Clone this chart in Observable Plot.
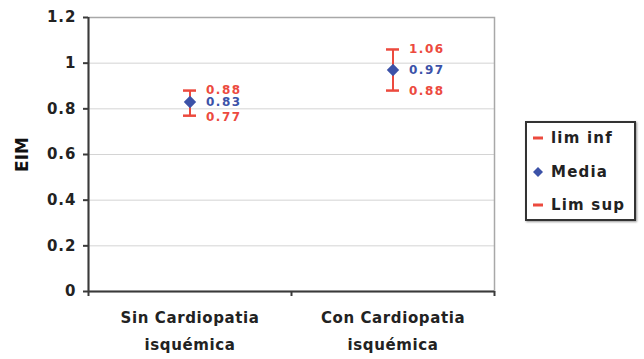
<!DOCTYPE html>
<html>
<head>
<meta charset="utf-8">
<script src="https://cdn.jsdelivr.net/npm/d3@7"></script>
<script src="https://cdn.jsdelivr.net/npm/@observablehq/plot@0.6"></script>
<style>
  html, body { margin: 0; padding: 0; background: #fff; }
  #wrap { position: relative; width: 644px; height: 359px; font-family: "DejaVu Sans", sans-serif; }
  #wrap > svg { position: absolute; left: 0; top: 0; }
  #legend { position: absolute; left: 525px; top: 121px; width: 111px; height: 100px; border: 2px solid #333; box-shadow: 1px 1px 2px #999; background: #fff; box-sizing: border-box; }
  .item { position: absolute; left: 0; height: 20px; display: flex; align-items: center; font-weight: bold; font-size: 15px; letter-spacing: 1.2px; color: #222; white-space: nowrap; }
  .mk { width: 14px; height: 20px; display: flex; align-items: center; justify-content: center; margin-left: 4px; margin-right: 6px; }
  .mk svg { display: block; }
</style>
</head>
<body>
<div id="wrap"></div>
<script>
const categories = ["Sin Cardiopatia\nisquémica", "Con Cardiopatia\nisquémica"];
const limInf = [0.77, 0.88];
const media = [0.83, 0.97];
const limSup = [0.88, 1.06];
const yTicks = [0, 0.2, 0.4, 0.6, 0.8, 1, 1.2];
const yTickLabels = ["0", "0.2", "0.4", "0.6", "0.8", "1", "1.2"];
const legendItems = ["lim inf", "Media", "Lim sup"];

const red = "#ec4a3e";
const blue = "#3c52a8";

const data = categories.map((c, i) => ({cat: c, lo: limInf[i], mean: media[i], hi: limSup[i]}));

const W = 644, H = 359, mL = 88, mR = 150, mT = 17, mB = 68;
const half = (W - mL - mR) / categories.length / 2;

const squareDiamond = {
  draw(context, size) {
    const r = Math.sqrt(size) / 2;
    context.moveTo(0, -r);
    context.lineTo(r, 0);
    context.lineTo(0, r);
    context.lineTo(-r, 0);
    context.closePath();
  }
};

const labelFont = {fontSize: 12, fontWeight: "bold", fontFamily: "'DejaVu Sans', sans-serif", dx: 16, textAnchor: "start"};

const plot = Plot.plot({
  width: W, height: H,
  marginLeft: mL, marginRight: mR, marginTop: mT, marginBottom: mB,
  style: {fontFamily: "'DejaVu Sans', sans-serif", background: "transparent"},
  x: {domain: categories, padding: 0},
  y: {domain: [0, 1.2]},
  marks: [
    Plot.gridY(yTicks, {stroke: "#d4d4d4", strokeOpacity: 1, strokeWidth: 1}),
    Plot.frame({stroke: "#a8a8a8", strokeWidth: 1.5}),
    Plot.ruleY([0], {stroke: "#3a3a3a", strokeWidth: 2}),
    Plot.ruleX([categories[0]], {x: d => d, y1: 0, y2: 1.2, dx: -half, stroke: "#3a3a3a", strokeWidth: 2}),
    Plot.ruleX(categories, {x: d => d, y1: 0, y2: 0, dx: -half, insetBottom: -5, stroke: "#3a3a3a", strokeWidth: 2}),
    Plot.ruleX([categories[categories.length - 1]], {x: d => d, y1: 0, y2: 0, dx: half, insetBottom: -5, stroke: "#3a3a3a", strokeWidth: 2}),
    Plot.axisY({ticks: yTicks, tickFormat: d => yTickLabels[yTicks.indexOf(d)], tickSize: 5, tickPadding: 7, stroke: "#3a3a3a", strokeWidth: 2, fontSize: 15, fontWeight: "bold", fill: "#222",
      label: "EIM", labelAnchor: "center", labelOffset: 73, labelArrow: "none"}),
    Plot.axisX({tickSize: 0, tickPadding: 12, fontSize: 15, fontWeight: "bold", fill: "#222", lineHeight: 1.8, label: null}),
    Plot.ruleX(data, {x: "cat", y1: "lo", y2: "hi", stroke: red, strokeWidth: 2}),
    Plot.tickY(data, {x: "cat", y: "lo", insetLeft: half - 6.5, insetRight: half - 6.5, stroke: red, strokeWidth: 2.5}),
    Plot.tickY(data, {x: "cat", y: "hi", insetLeft: half - 6.5, insetRight: half - 6.5, stroke: red, strokeWidth: 2.5}),
    Plot.dot(data, {x: "cat", y: "mean", symbol: squareDiamond, r: 7, fill: blue}),
    Plot.text(data, {x: "cat", y: "hi", text: d => d.hi.toFixed(2), fill: red, ...labelFont}),
    Plot.text(data, {x: "cat", y: "mean", text: d => d.mean.toFixed(2), dy: 0.5, fill: blue, ...labelFont}),
    Plot.text(data, {x: "cat", y: "lo", text: d => d.lo.toFixed(2), dy: 1, fill: red, ...labelFont})
  ]
});

const wrap = document.getElementById("wrap");
wrap.appendChild(plot);
const svg = d3.select(plot);
svg.selectAll("g[aria-label='text'] text").attr("letter-spacing", "1.5px");
svg.selectAll("g[aria-label='y-axis tick label'] text").attr("letter-spacing", "1px");
svg.selectAll("g[aria-label='x-axis tick label'] text").attr("letter-spacing", "0.6px");
svg.selectAll("g[aria-label='y-axis label']").attr("font-size", 17).attr("font-weight", "bold").attr("fill", "#111");

const legend = document.createElement("div");
legend.id = "legend";
const markers = [
  `<svg width="12" height="4"><rect x="1" y="0.5" width="10" height="3" fill="${red}"/></svg>`,
  `<svg width="12" height="12"><path d="M6 1 L11 6 L6 11 L1 6 Z" fill="${blue}"/></svg>`,
  `<svg width="12" height="4"><rect x="1" y="0.5" width="10" height="3" fill="${red}"/></svg>`
];
legendItems.forEach((t, i) => {
  const el = document.createElement("div");
  el.className = "item";
  el.style.top = (5 + i * 33.5) + "px";
  el.innerHTML = `<span class="mk">${markers[i]}</span><span>${t}</span>`;
  legend.appendChild(el);
});
wrap.appendChild(legend);
</script>
</body>
</html>
